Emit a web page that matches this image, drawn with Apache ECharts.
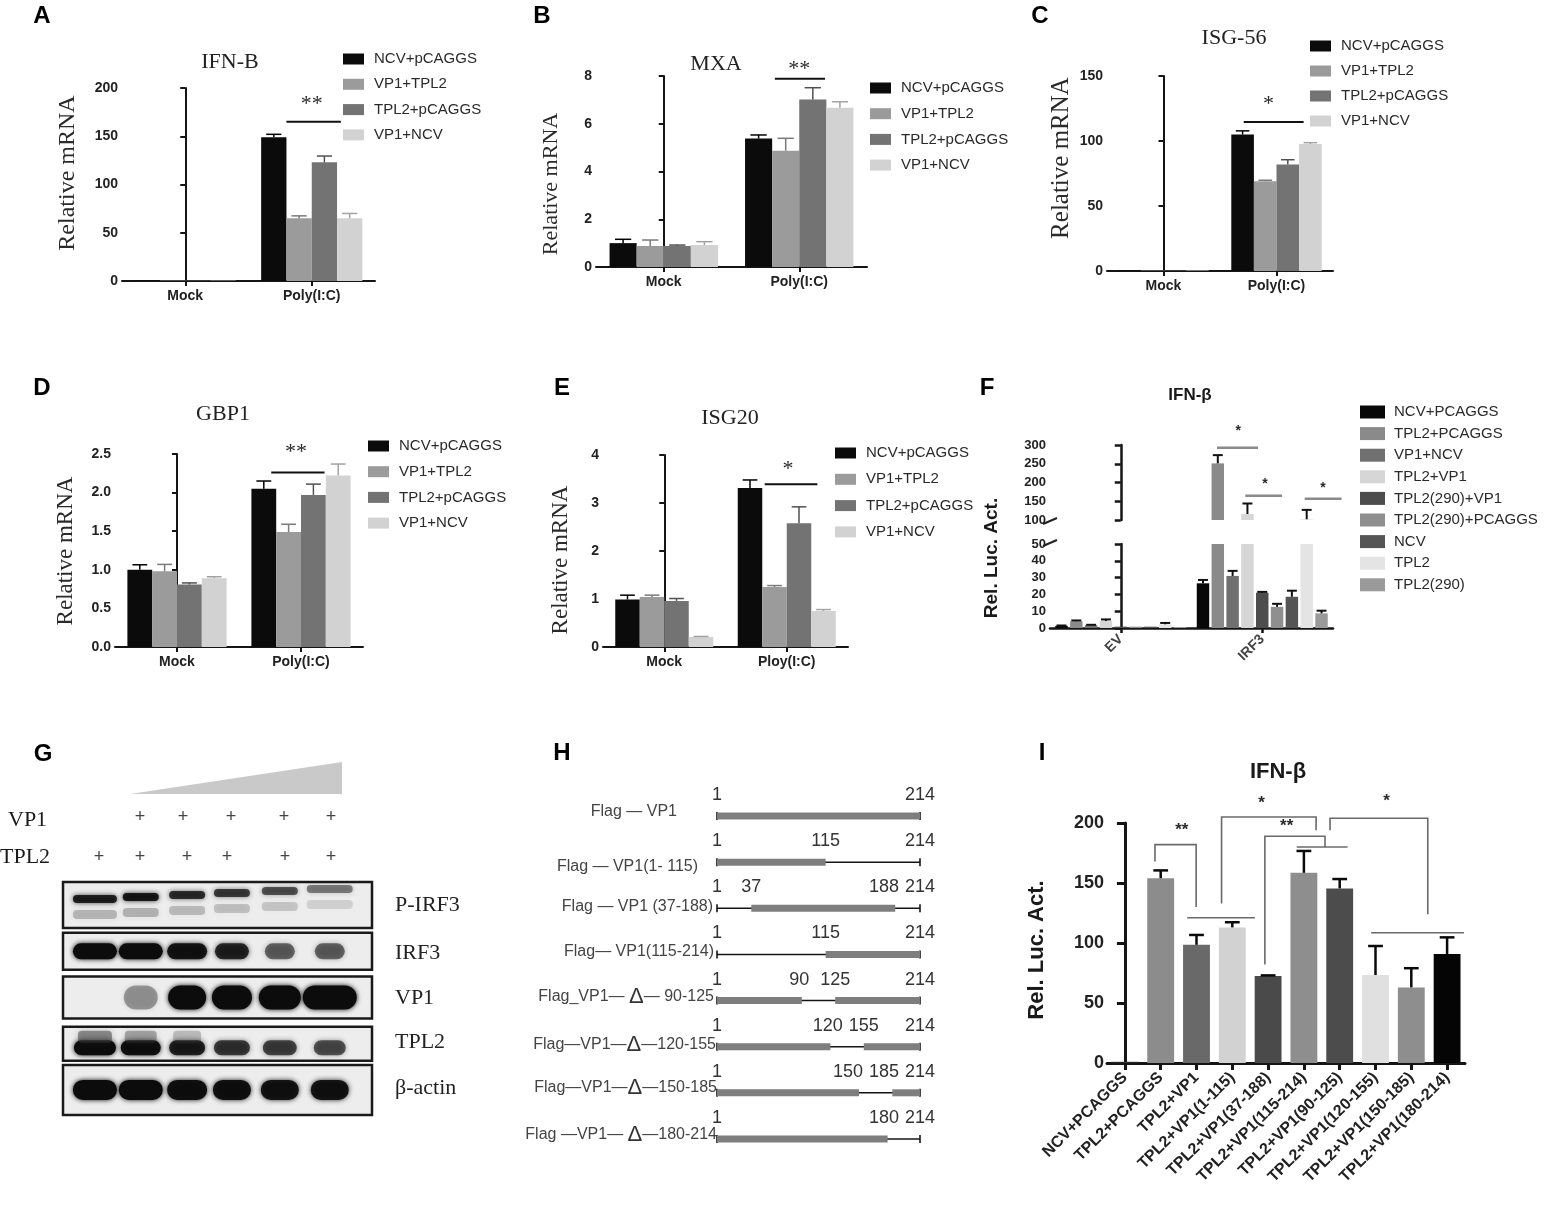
<!DOCTYPE html>
<html>
<head>
<meta charset="utf-8">
<title>TPL2 / VP1 figure</title>
<script src="https://cdn.jsdelivr.net/npm/echarts@6.0.0/dist/echarts.min.js"></script>
<style>
  html, body { margin: 0; padding: 0; background: #fff; }
  #main { width: 1546px; height: 1207px; }
</style>
</head>
<body>
<div id="main"></div>
<script>
// ---------------- data ----------------
var groupNames = ['NCV+pCAGGS', 'VP1+TPL2', 'TPL2+pCAGGS', 'VP1+NCV'];
var polyCats = ['Mock', 'Poly(I:C)'];
var ployCats = ['Mock', 'Ploy(I:C)'];

// one row per series: [Mock, Poly(I:C)]
var ifnbMean = [[0.6, 149], [0.4, 65], [0.4, 123], [0.4, 65]];
var ifnbErr = [[0, 3], [0, 2.5], [0, 6.5], [0, 5]];
var mxaMean = [[1.0, 5.38], [0.88, 4.87], [0.88, 7.02], [0.92, 6.67]];
var mxaErr = [[0.16, 0.15], [0.25, 0.52], [0.04, 0.49], [0.14, 0.25]];
var isg56Mean = [[0.5, 105], [0.3, 69], [0.3, 82], [0.4, 97.7]];
var isg56Err = [[0, 2.8], [0, 0.8], [0, 3.6], [0, 1]];
var gbp1Mean = [[1.0, 2.05], [0.98, 1.49], [0.81, 1.97], [0.89, 2.22]];
var gbp1Err = [[0.065, 0.1], [0.09, 0.1], [0.02, 0.14], [0.02, 0.15]];
var isg20Mean = [[0.99, 3.31], [1.04, 1.25], [0.96, 2.58], [0.21, 0.75]];
var isg20Err = [[0.09, 0.17], [0.04, 0.03], [0.05, 0.34], [0.01, 0.03]];

// F: luciferase, one row per series: [EV, IRF3]
var lucCats = ['EV', 'IRF3'];
var lucNames = ['NCV+PCAGGS', 'TPL2+PCAGGS', 'VP1+NCV', 'TPL2+VP1', 'TPL2(290)+VP1',
                'TPL2(290)+PCAGGS', 'NCV', 'TPL2', 'TPL2(290)'];
var lucMean = [[1.3, 26.6], [4.0, 251], [1.6, 31], [4.2, 116], [0.8, 21],
               [0.8, 12.6], [0.8, 18.6], [2.2, 102], [0.6, 8.7]];
var lucErr = [[0.2, 2], [0.5, 22], [0.3, 3], [0.9, 28], [0, 0.5],
              [0, 1.8], [0, 3.6], [0.8, 25], [0, 1.6]];

// I: truncation mutants
var trunCats = ['NCV+PCAGGS', 'TPL2+PCAGGS', 'TPL2+VP1', 'TPL2+VP1(1-115)', 'TPL2+VP1(37-188)',
                'TPL2+VP1(115-214)', 'TPL2+VP1(90-125)', 'TPL2+VP1(120-155)', 'TPL2+VP1(150-185)',
                'TPL2+VP1(180-214)'];
var trunMean = [1, 154, 98.5, 113, 72.5, 158.5, 145.5, 73.3, 63, 90.8];
var trunErr = [0, 6.5, 8.2, 4.3, 0.5, 18.2, 7.8, 24.2, 16, 13.9];

// G: western blot band strength (0 = no band, 1 = saturated), lanes 1..6
var blotRows = ['P-IRF3', 'IRF3', 'VP1', 'TPL2', 'β-actin'];
var vp1Dose = ['+', '+', '+', '+', '+'];
var tpl2Dose = ['+', '+', '+', '+', '+', '+'];
var blotIntensity = [
  [0.85, 0.9, 0.78, 0.72, 0.62, 0.45],
  [1, 1, 0.92, 0.82, 0.55, 0.55],
  [0, 0.35, 1, 1, 1, 1],
  [1, 0.95, 0.85, 0.72, 0.68, 0.62],
  [1, 1, 0.97, 0.95, 0.93, 0.93]
];

// H: VP1 constructs (residues 1-214)
var constructNames = ['Flag — VP1', 'Flag — VP1(1- 115)', 'Flag — VP1 (37-188)', 'Flag— VP1(115-214)',
                      'Flag_VP1— {d|Δ}— 90-125', 'Flag—VP1—{d|Δ}—120-155', 'Flag—VP1—{d|Δ}—150-185',
                      'Flag —VP1— {d|Δ}—180-214'];
var constructKept = [[[1, 214]], [[1, 115]], [[37, 188]], [[115, 214]],
                     [[1, 90], [125, 214]], [[1, 120], [155, 214]], [[1, 150], [185, 214]], [[1, 180]]];
var constructMarks = [[1, 214], [1, 115, 214], [1, 37, 188, 214], [1, 115, 214],
                      [1, 90, 125, 214], [1, 120, 155, 214], [1, 150, 185, 214], [1, 180, 214]];

// significance marks, in axis units (x = group position, y = value)
var sigA = [{ path: [[0.8, 165], [1.23, 165]], text: '**', at: [1.0, 183] }];
var sigB = [{ path: [[0.82, 7.89], [1.19, 7.89]], text: '**', at: [1.0, 8.3] }];
var sigC = [{ path: [[0.71, 114.6], [1.24, 114.6]], text: '*', at: [0.93, 128] }];
var sigD = [{ path: [[0.76, 2.26], [1.19, 2.26]], text: '**', at: [0.96, 2.52] }];
var sigE = [{ path: [[0.82, 3.39], [1.25, 3.39]], text: '*', at: [1.01, 3.7] }];
var sigF = [
  { path: [[0.68, 293], [0.97, 293]], text: '*', at: [0.83, 338] },
  { path: [[0.88, 165], [1.14, 165]], text: '*', at: [1.02, 196] },
  { path: [[1.3, 157], [1.56, 157]], text: '*', at: [1.43, 186] }
];
var sigI = [
  { path: [[0.84, 168], [0.84, 182], [1.99, 182], [1.99, 130]], text: '**', at: [1.59, 194] },
  { path: [[1.74, 121], [3.63, 121]] },
  { path: [[2.7, 133], [2.7, 205], [5.34, 205], [5.34, 194]], text: '*', at: [3.82, 216] },
  { path: [[3.91, 82], [3.91, 189], [5.59, 189], [5.59, 180]], text: '**', at: [4.52, 197] },
  { path: [[4.8, 180], [6.22, 180]] },
  { path: [[5.73, 194], [5.73, 204], [8.46, 204], [8.46, 124]], text: '*', at: [7.31, 218] },
  { path: [[6.88, 108.6], [9.47, 108.6]] }
];

// ---------------- styles ----------------
var SANS = '"Liberation Sans", Arial, Helvetica, sans-serif';
var SERIF = '"Liberation Serif", "Times New Roman", serif';
var groupColors = ['#0b0b0b', '#9b9b9b', '#737373', '#d2d2d2'];
var groupErrColors = ['#000000', '#7a7a7a', '#505050', '#a3a3a3'];
var lucColors = ['#080808', '#8a8a8a', '#707070', '#d6d6d6', '#4d4d4d', '#8f8f8f', '#555555', '#e4e4e4', '#9a9a9a'];
var trunColors = ['#2a2a2a', '#8c8c8c', '#696969', '#d2d2d2', '#4a4a4a', '#8e8e8e', '#4c4c4c', '#e0e0e0', '#8e8e8e', '#050505'];

var blotLaneX = [0.62, 1.51, 2.41, 3.28, 4.21, 5.18];
var blotFrameH = [46, 37, 42, 34, 50];
var blotBandH = [8, 16, 24, 15, 20];
var blotBandDy = [-6, 0, 0, 4, 0];
var blotBandW = [[44, 36, 36, 36, 36, 46], [44, 44, 40, 34, 30, 30], [0, 34, 38, 40, 42, 54],
                 [42, 40, 36, 36, 34, 32], [44, 44, 40, 38, 38, 38]];
var hLabelGap = [40, 19, 4, 3, 3, 1, 0, 0];
var hLabelDy = [-4, 4, -2, -3, -4, -2, -5, -4];

var option = {
  animation: false,
  backgroundColor: '#ffffff',
  textStyle: { fontFamily: SANS },
  grid: [], xAxis: [], yAxis: [], series: [], legend: [], graphic: []
};

function addGrid(box) {
  option.grid.push({ left: box[0], top: box[1], width: box[2], height: box[3],
    containLabel: false, outerBoundsMode: 'none' });
  return option.grid.length - 1;
}

function catAxis(g, cats, o) {
  o = o || {};
  return {
    type: 'category', gridIndex: g, data: cats, show: o.show !== false,
    axisLine: { show: true, lineStyle: { color: '#151515', width: o.lineW || 2 } },
    axisTick: { show: true, alignWithLabel: true, length: o.tick || 5,
      lineStyle: { color: '#151515', width: o.lineW || 2 } },
    axisLabel: { interval: 0, rotate: o.rotate || 0, fontFamily: SANS, fontWeight: 'bold',
      fontSize: o.size || 14, color: o.color || '#222', margin: o.margin || 8 }
  };
}

function valAxis(g, min, max, interval, o) {
  o = o || {};
  return {
    type: 'value', gridIndex: g, min: min, max: max, interval: interval,
    axisLine: { show: true, lineStyle: { color: '#151515', width: o.lineW || 2 } },
    axisTick: { show: true, length: o.tick || 5, lineStyle: { color: '#151515', width: o.lineW || 2 } },
    splitLine: { show: false },
    axisLabel: { fontFamily: SANS, fontWeight: 'bold', fontSize: o.size || 14, color: '#222',
      margin: o.margin || 4, formatter: o.fmt }
  };
}

// error bars: data item = [x, mean, mean + err, colorIndex]
function errorSeries(xi, yi, data, colors, barFrac, capFrac, lw) {
  return {
    type: 'custom', xAxisIndex: xi, yAxisIndex: yi, z: 4, silent: true,
    encode: { x: 0, y: [1, 2] }, data: data,
    renderItem: function (params, api) {
      var x = api.value(0);
      var lo = api.coord([x, api.value(1)]);
      var hi = api.coord([x, api.value(2)]);
      var half = api.size([barFrac, 0])[0] * capFrac / 2;
      var c = colors[api.value(3)];
      var st = { stroke: c, lineWidth: lw };
      return { type: 'group', children: [
        { type: 'line', shape: { x1: lo[0], y1: lo[1], x2: hi[0], y2: hi[1] }, style: st },
        { type: 'line', shape: { x1: hi[0] - half, y1: hi[1], x2: hi[0] + half, y2: hi[1] }, style: st }
      ] };
    }
  };
}

function sigSeries(xi, yi, marks, stroke, lw, font) {
  return {
    type: 'custom', xAxisIndex: xi, yAxisIndex: yi, z: 5, silent: true, clip: false,
    encode: { x: 0, y: 1 },
    data: marks.map(function (m) { return m.path[0]; }),
    renderItem: function (params, api) {
      var m = marks[params.dataIndex];
      var pts = m.path.map(function (p) { return api.coord(p); });
      var ch = [{ type: 'polyline', shape: { points: pts }, style: { stroke: stroke, lineWidth: lw, fill: null } }];
      if (m.text) {
        var t = api.coord(m.at);
        ch.push({ type: 'text', x: t[0], y: t[1], style: { text: m.text, font: font, fill: '#2a2a2a',
          align: 'center', verticalAlign: 'middle', textAlign: 'center', textVerticalAlign: 'middle' } });
      }
      return { type: 'group', children: ch };
    }
  };
}

function legendData(names, colors) {
  return names.map(function (n, i) { return { name: n, itemStyle: { color: colors[i] } }; });
}

// ---------------- panels A–E ----------------
function groupedPanel(cfg) {
  var g = addGrid(cfg.box);
  var xi = option.xAxis.length;
  option.xAxis.push(catAxis(g, cfg.cats));
  option.xAxis.push({ type: 'value', gridIndex: g, min: -0.5, max: cfg.cats.length - 0.5, show: false });
  var yi = option.yAxis.length;
  option.yAxis.push(valAxis(g, 0, cfg.max, cfg.interval, { fmt: cfg.fmt }));
  var barFrac = 0.2;
  var n = cfg.mean.length;
  var errs = [];
  cfg.mean.forEach(function (vals, i) {
    option.series.push({
      name: groupNames[i], type: 'bar', xAxisIndex: xi, yAxisIndex: yi, data: vals,
      barWidth: '20%', barGap: '0%', itemStyle: { color: groupColors[i] }, silent: true
    });
    vals.forEach(function (v, c) {
      var e = cfg.err[i][c];
      if (e > 0) errs.push([c + (i - (n - 1) / 2) * barFrac, v, v + e, i]);
    });
  });
  option.series.push(errorSeries(xi + 1, yi, errs, groupErrColors, barFrac, 0.6, 1.5));
  option.series.push(sigSeries(xi + 1, yi, cfg.sig, '#111', 2, '22px ' + SERIF));
  option.legend.push({
    data: legendData(groupNames, groupColors), orient: 'vertical',
    left: cfg.legend[0], top: cfg.legend[1], itemGap: cfg.legend[2],
    padding: 0, icon: 'rect', itemWidth: 21, itemHeight: 11, selectedMode: false,
    textStyle: { fontFamily: SANS, fontSize: 15, color: '#2a2a2a', lineHeight: 18, padding: [0, 0, 0, 5] }
  });
}

groupedPanel({ box: [122, 88, 253, 193], cats: polyCats, mean: ifnbMean, err: ifnbErr, max: 200, interval: 50,
  sig: sigA, legend: [343, 50, 7.3] });
groupedPanel({ box: [596, 76, 271, 191], cats: polyCats, mean: mxaMean, err: mxaErr, max: 8, interval: 2,
  sig: sigB, legend: [870, 79, 7.7] });
groupedPanel({ box: [1107, 76, 226, 195], cats: polyCats, mean: isg56Mean, err: isg56Err, max: 150, interval: 50,
  sig: sigC, legend: [1310, 37, 7] });
groupedPanel({ box: [115, 454, 248, 193], cats: polyCats, mean: gbp1Mean, err: gbp1Err, max: 2.5, interval: 0.5,
  fmt: function (v) { return v.toFixed(1); }, sig: sigD, legend: [368, 437, 7.7] });
groupedPanel({ box: [603, 455, 245, 192], cats: ployCats, mean: isg20Mean, err: isg20Err, max: 4, interval: 1,
  sig: sigE, legend: [835, 444, 8.3] });

// ---------------- panel F (broken axis) ----------------
(function () {
  var gl = addGrid([1050, 544, 283, 84]);
  var gu = addGrid([1050, 445, 283, 75]);
  var xl = option.xAxis.length;
  option.xAxis.push(catAxis(gl, lucCats, { rotate: 45, size: 14, color: '#444', margin: 9, lineW: 2.5 }));
  option.xAxis.push({ type: 'value', gridIndex: gl, min: -0.5, max: 1.5, show: false });
  option.xAxis.push(catAxis(gu, lucCats, { show: false }));
  option.xAxis.push({ type: 'value', gridIndex: gu, min: -0.5, max: 1.5, show: false });
  var yl = option.yAxis.length;
  option.yAxis.push(valAxis(gl, 0, 50, 10, { lineW: 2.5, tick: 6, size: 13 }));
  option.yAxis.push(valAxis(gu, 100, 300, 50, { lineW: 2.5, tick: 6, size: 13 }));
  var barFrac = 0.088, slot = 0.1047;
  var errLow = [], errUp = [];
  lucMean.forEach(function (vals, i) {
    option.series.push({ name: lucNames[i], type: 'bar', xAxisIndex: xl, yAxisIndex: yl, data: vals,
      barWidth: '8.8%', barGap: '19%', clip: true, itemStyle: { color: lucColors[i] }, silent: true });
    option.series.push({ name: lucNames[i], type: 'bar', xAxisIndex: xl + 2, yAxisIndex: yl + 1,
      data: vals.map(function (v) { return v > 100 ? v : '-'; }),
      barWidth: '8.8%', barGap: '19%', clip: true, itemStyle: { color: lucColors[i] }, silent: true });
    vals.forEach(function (v, c) {
      var e = lucErr[i][c];
      if (e <= 0) return;
      var item = [c + (i - 4) * slot, v, v + e, 0];
      if (v < 50) errLow.push(item); else if (v > 100) errUp.push(item);
    });
  });
  option.series.push(errorSeries(xl + 1, yl, errLow, ['#111'], barFrac, 0.8, 2));
  option.series.push(errorSeries(xl + 3, yl + 1, errUp, ['#111'], barFrac, 0.8, 2));
  option.series.push(sigSeries(xl + 3, yl + 1, sigF, '#8a8a8a', 2.5, 'bold 14px ' + SANS));
  option.legend.push({
    data: legendData(lucNames, lucColors), orient: 'vertical', left: 1360, top: 403, itemGap: 3.6,
    padding: 0, icon: 'rect', itemWidth: 25, itemHeight: 13, selectedMode: false,
    textStyle: { fontFamily: SANS, fontSize: 15, color: '#2a2a2a', lineHeight: 18, padding: [0, 0, 0, 4] }
  });
})();

// ---------------- panel I ----------------
(function () {
  var g = addGrid([1107, 823, 358, 240]);
  var xi = option.xAxis.length;
  option.xAxis.push(catAxis(g, trunCats, { rotate: 45, size: 16, margin: 12, lineW: 3, tick: 7 }));
  option.xAxis.push({ type: 'value', gridIndex: g, min: -0.5, max: trunCats.length - 0.5, show: false });
  var yi = option.yAxis.length;
  option.yAxis.push(valAxis(g, 0, 200, 50, { lineW: 3, tick: 8, size: 18, margin: 3 }));
  option.series.push({ type: 'bar', xAxisIndex: xi, yAxisIndex: yi, barWidth: '75%', silent: true,
    data: trunMean.map(function (v, k) { return { value: v, itemStyle: { color: trunColors[k] } }; }) });
  var errs = [];
  trunMean.forEach(function (v, k) { if (trunErr[k] > 0) errs.push([k, v, v + trunErr[k], 0]); });
  option.series.push(errorSeries(xi + 1, yi, errs, ['#0a0a0a'], 0.75, 0.55, 2.5));
  option.series.push(sigSeries(xi + 1, yi, sigI, '#6a6a6a', 1.6, 'bold 17px ' + SANS));
})();

// ---------------- panel G (blot) ----------------
(function () {
  var g = addGrid([63, 882, 309, 231]);
  var xi = option.xAxis.length;
  option.xAxis.push({ type: 'value', gridIndex: g, min: 0, max: 6, show: false });
  var yi = option.yAxis.length;
  option.yAxis.push({ type: 'category', gridIndex: g, data: blotRows, inverse: true, show: false });
  option.series.push({
    type: 'custom', xAxisIndex: xi, yAxisIndex: yi, z: 1, silent: true, encode: { x: 0, y: 1 },
    data: blotRows.map(function (r, k) { return [0, k]; }),
    renderItem: function (params, api) {
      var k = params.dataIndex;
      var a = api.coord([0, k]), b = api.coord([6, k]);
      var h = blotFrameH[k];
      return { type: 'rect', shape: { x: a[0], y: a[1] - h / 2, width: b[0] - a[0], height: h },
        style: { fill: '#ededed', stroke: '#1a1a1a', lineWidth: 2.5 } };
    }
  });
  var bands = [];
  blotIntensity.forEach(function (row, k) {
    row.forEach(function (v, j) { if (v > 0) bands.push([blotLaneX[j], k, v, j]); });
  });
  option.series.push({
    type: 'custom', xAxisIndex: xi, yAxisIndex: yi, z: 2, silent: true, encode: { x: 0, y: 1 },
    data: bands,
    renderItem: function (params, api) {
      var k = api.value(1), j = api.value(3), a = api.value(2);
      var p = api.coord([api.value(0), k]);
      var w = blotBandW[k][j], h = blotBandH[k];
      var cy = p[1] + blotBandDy[k] - (k === 0 ? j * 2 : 0);
      var col = 'rgba(12,12,12,' + a + ')';
      var ch = [{ type: 'rect', shape: { x: p[0] - w / 2, y: cy - h / 2, width: w, height: h, r: h / 2 },
        style: { fill: col, shadowBlur: 5, shadowColor: col } }];
      if (k === 0) {
        var c2 = 'rgba(40,40,40,' + (a * 0.3) + ')';
        ch.push({ type: 'rect', shape: { x: p[0] - w / 2, y: cy + 11, width: w, height: 9, r: 4 },
          style: { fill: c2, shadowBlur: 6, shadowColor: c2 } });
      }
      if (k === 3 && j < 3) {
        var c3 = 'rgba(60,60,60,' + (0.5 - j * 0.12) + ')';
        ch.push({ type: 'rect', shape: { x: p[0] - w / 2 + 4, y: cy - 17, width: w - 8, height: 12, r: 4 },
          style: { fill: c3, shadowBlur: 6, shadowColor: c3 } });
      }
      return { type: 'group', children: ch };
    }
  });
})();

// ---------------- panel H (constructs) ----------------
(function () {
  var g = addGrid([717, 793, 203, 369]);
  var xi = option.xAxis.length;
  option.xAxis.push({ type: 'value', gridIndex: g, min: 1, max: 214, show: false });
  var yi = option.yAxis.length;
  option.yAxis.push({ type: 'category', gridIndex: g, data: constructNames, inverse: true, show: false });
  option.series.push({
    type: 'custom', xAxisIndex: xi, yAxisIndex: yi, silent: true, clip: false, encode: { x: 0, y: 1 },
    data: constructNames.map(function (n, k) { return [1, k]; }),
    renderItem: function (params, api) {
      var k = params.dataIndex;
      var s = api.coord([1, k]), e = api.coord([214, k]);
      var y = s[1];
      var thin = { stroke: '#151515', lineWidth: 1.6 };
      var ch = [
        { type: 'line', shape: { x1: s[0], y1: y, x2: e[0], y2: y }, style: thin },
        { type: 'line', shape: { x1: s[0], y1: y - 4, x2: s[0], y2: y + 4 }, style: thin },
        { type: 'line', shape: { x1: e[0], y1: y - 4, x2: e[0], y2: y + 4 }, style: thin }
      ];
      constructKept[k].forEach(function (seg) {
        var a = api.coord([seg[0], k])[0], b = api.coord([seg[1], k])[0];
        ch.push({ type: 'rect', shape: { x: a, y: y - 3.5, width: b - a, height: 7 }, style: { fill: '#7e7e7e' } });
      });
      // residue numbers: walk from the right so close labels do not collide
      var marks = constructMarks[k];
      var next = Infinity;
      for (var m = marks.length - 1; m >= 0; m--) {
        var x = api.coord([marks[m], k])[0];
        if (m > 0) x = Math.min(x, next - 36);
        next = x;
        ch.push({ type: 'text', x: x, y: y - 21, style: { text: String(marks[m]), font: '18px ' + SANS, fill: '#333',
          align: 'center', verticalAlign: 'middle', textAlign: 'center', textVerticalAlign: 'middle' } });
      }
      ch.push({ type: 'text', x: s[0] - hLabelGap[k], y: y + hLabelDy[k], style: {
        text: constructNames[k], font: '16px ' + SANS, fill: '#444',
        rich: { d: { fontSize: 22, fontFamily: SANS, fill: '#333' } },
        align: 'right', verticalAlign: 'middle', textAlign: 'right', textVerticalAlign: 'middle' } });
      return { type: 'group', children: ch };
    }
  });
})();

// ---------------- free text ----------------
function txt(x, y, s, font, o) {
  o = o || {};
  var al = o.align || 'center';
  return { type: 'text', x: x, y: y, rotation: o.rot || 0, silent: true,
    style: { text: s, font: font, fill: o.fill || '#1a1a1a', align: al, verticalAlign: 'middle',
      textAlign: al, textVerticalAlign: 'middle' } };
}
var LETTER = 'bold 24px ' + SANS;
var letters = [['A', 42, 16], ['B', 542, 16], ['C', 1040, 16], ['D', 42, 388], ['E', 562, 388],
               ['F', 987, 388], ['G', 43, 754], ['H', 562, 753], ['I', 1042, 753]];
letters.forEach(function (l) { option.graphic.push(txt(l[1], l[2], l[0], LETTER, { fill: '#000' })); });

var R = Math.PI / 2;
option.graphic.push(
  txt(230, 62, 'IFN-B', '22px ' + SERIF, { fill: '#222' }),
  txt(716, 64, 'MXA', '22px ' + SERIF, { fill: '#222' }),
  txt(1234, 38, 'ISG-56', '22px ' + SERIF, { fill: '#222' }),
  txt(223, 414, 'GBP1', '22px ' + SERIF, { fill: '#222' }),
  txt(730, 418, 'ISG20', '22px ' + SERIF, { fill: '#222' }),
  txt(1190, 395, 'IFN-β', 'bold 17px ' + SANS),
  txt(1278, 772, 'IFN-β', 'bold 22px ' + SANS),
  txt(68, 173, 'Relative mRNA', '24px ' + SERIF, { rot: R, fill: '#2a2a2a' }),
  txt(551, 184, 'Relative mRNA', '22px ' + SERIF, { rot: R, fill: '#2a2a2a' }),
  txt(1061, 158, 'Relative mRNA', '25px ' + SERIF, { rot: R, fill: '#2a2a2a' }),
  txt(66, 551, 'Relative mRNA', '23px ' + SERIF, { rot: R, fill: '#2a2a2a' }),
  txt(561, 560, 'Relative mRNA', '23px ' + SERIF, { rot: R, fill: '#2a2a2a' }),
  txt(992, 558, 'Rel. Luc. Act.', 'bold 19px ' + SANS, { rot: R }),
  txt(1037, 950, 'Rel. Luc. Act.', 'bold 22px ' + SANS, { rot: R })
);

// F axis break marks
option.graphic.push(
  { type: 'line', silent: true, shape: { x1: 1043, y1: 524, x2: 1057, y2: 518 }, style: { stroke: '#222', lineWidth: 2 } },
  { type: 'line', silent: true, shape: { x1: 1043, y1: 546, x2: 1057, y2: 540 }, style: { stroke: '#222', lineWidth: 2 } }
);

// G header: dose wedge, +/- rows and blot labels
option.graphic.push({ type: 'polygon', silent: true, shape: { points: [[130, 794], [342, 762], [342, 794]] },
  style: { fill: '#c9c9c9' } });
option.graphic.push(txt(8, 820, 'VP1', '22px ' + SERIF, { align: 'left' }));
option.graphic.push(txt(0, 857, 'TPL2', '22px ' + SERIF, { align: 'left' }));
var vp1PlusX = [140, 183, 231, 284, 331];
var tpl2PlusX = [99, 140, 187, 227, 285, 331];
vp1Dose.forEach(function (s, j) { option.graphic.push(txt(vp1PlusX[j], 817, s, '18px ' + SANS, { fill: '#444' })); });
tpl2Dose.forEach(function (s, j) { option.graphic.push(txt(tpl2PlusX[j], 857, s, '18px ' + SANS, { fill: '#444' })); });
var blotLabelY = [905, 953, 998, 1042, 1088];
blotRows.forEach(function (r, k) {
  option.graphic.push(txt(395, blotLabelY[k], r, '22px ' + SERIF, { align: 'left', fill: '#222' }));
});

var chart = echarts.init(document.getElementById('main'));
chart.setOption(option);
</script>
</body>
</html>
